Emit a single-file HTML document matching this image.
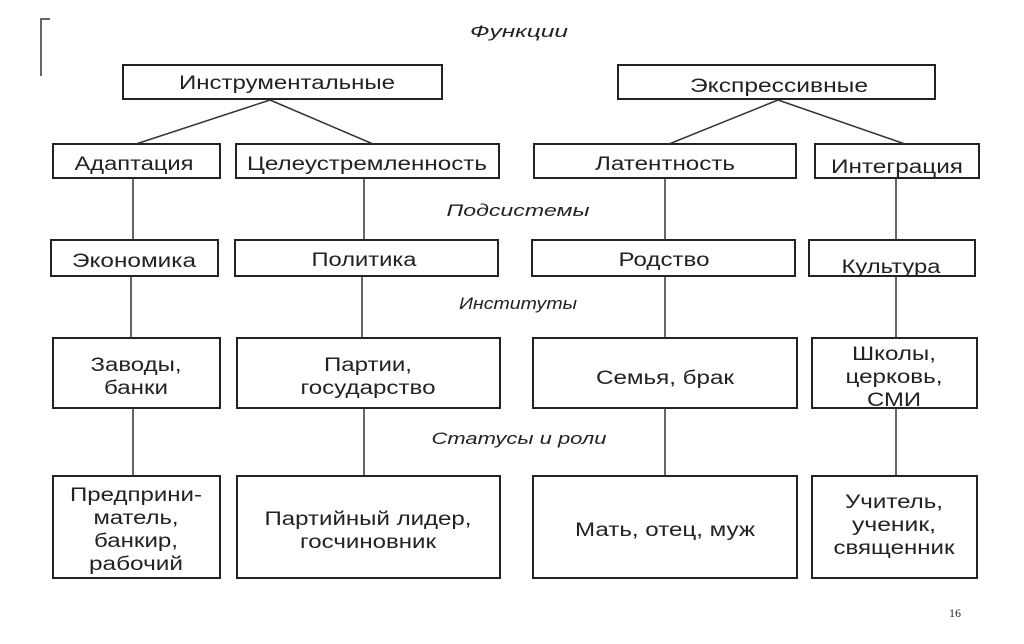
<!DOCTYPE html>
<html><head><meta charset="utf-8"><style>
body{margin:0;background:#fff;}
svg text{font-family:"Liberation Sans","DejaVu Sans",sans-serif;fill:#222;}
</style></head><body>
<svg width="1024" height="639" xmlns="http://www.w3.org/2000/svg">
<g fill="none" stroke="#666" stroke-width="2"><path d="M50 19 H41 V76"/></g>
<g fill="none" stroke="#222" stroke-width="2">
<rect x="123" y="65" width="319" height="34"/>
<rect x="618" y="65" width="317" height="34"/>
<rect x="53" y="144" width="167" height="34"/>
<rect x="236" y="144" width="263" height="34"/>
<rect x="534" y="144" width="262" height="34"/>
<rect x="815" y="144" width="164" height="34"/>
<rect x="51" y="240" width="167" height="36"/>
<rect x="235" y="240" width="263" height="36"/>
<rect x="532" y="240" width="263" height="36"/>
<rect x="809" y="240" width="166" height="36"/>
<rect x="53" y="338" width="167" height="70"/>
<rect x="237" y="338" width="263" height="70"/>
<rect x="533" y="338" width="264" height="70"/>
<rect x="812" y="338" width="165" height="70"/>
<rect x="53" y="476" width="167" height="102"/>
<rect x="237" y="476" width="263" height="102"/>
<rect x="533" y="476" width="264" height="102"/>
<rect x="812" y="476" width="165" height="102"/>
</g>
<g stroke="#333" stroke-width="1.5" fill="none">
<path d="M270 100 L136 144 M270 100 L373 144 M778 100 L669 144 M778 100 L905 144"/>
<path d="M133 178 V240 M364 178 V240 M665 178 V240 M896 178 V240"/>
<path d="M131 276 V338 M362 276 V338 M665 276 V338 M896 276 V338"/>
<path d="M133 408 V476 M364 408 V476 M665 408 V476 M896 408 V476"/>
</g>
<g font-size="19" text-anchor="middle" lengthAdjust="spacingAndGlyphs">
<text x="287" y="89" textLength="216" lengthAdjust="spacingAndGlyphs">Инструментальные</text>
<text x="779" y="92" textLength="178" lengthAdjust="spacingAndGlyphs">Экспрессивные</text>
<text x="134" y="170" textLength="119" lengthAdjust="spacingAndGlyphs">Адаптация</text>
<text x="367" y="170" textLength="240" lengthAdjust="spacingAndGlyphs">Целеустремленность</text>
<text x="665" y="170" textLength="140" lengthAdjust="spacingAndGlyphs">Латентность</text>
<text x="897" y="173" textLength="132" lengthAdjust="spacingAndGlyphs">Интеграция</text>
<text x="134" y="267" textLength="124" lengthAdjust="spacingAndGlyphs">Экономика</text>
<text x="364" y="266" textLength="105" lengthAdjust="spacingAndGlyphs">Политика</text>
<text x="664" y="266" textLength="91" lengthAdjust="spacingAndGlyphs">Родство</text>
<text x="891" y="273" textLength="99" lengthAdjust="spacingAndGlyphs">Культура</text>
<text x="136" y="371" textLength="91" lengthAdjust="spacingAndGlyphs">Заводы,</text>
<text x="136" y="394" textLength="64" lengthAdjust="spacingAndGlyphs">банки</text>
<text x="368" y="371" textLength="88" lengthAdjust="spacingAndGlyphs">Партии,</text>
<text x="368" y="394" textLength="135" lengthAdjust="spacingAndGlyphs">государство</text>
<text x="665" y="384" textLength="138" lengthAdjust="spacingAndGlyphs">Семья, брак</text>
<text x="894" y="360" textLength="84" lengthAdjust="spacingAndGlyphs">Школы,</text>
<text x="894" y="383" textLength="97" lengthAdjust="spacingAndGlyphs">церковь,</text>
<text x="894" y="406" textLength="54" lengthAdjust="spacingAndGlyphs">СМИ</text>
<text x="136" y="501" textLength="132" lengthAdjust="spacingAndGlyphs">Предприни-</text>
<text x="136" y="524" textLength="85" lengthAdjust="spacingAndGlyphs">матель,</text>
<text x="136" y="547" textLength="84" lengthAdjust="spacingAndGlyphs">банкир,</text>
<text x="136" y="570" textLength="94" lengthAdjust="spacingAndGlyphs">рабочий</text>
<text x="368" y="525" textLength="207" lengthAdjust="spacingAndGlyphs">Партийный лидер,</text>
<text x="368" y="548" textLength="136" lengthAdjust="spacingAndGlyphs">госчиновник</text>
<text x="665" y="536" textLength="180" lengthAdjust="spacingAndGlyphs">Мать, отец, муж</text>
<text x="894" y="508" textLength="98" lengthAdjust="spacingAndGlyphs">Учитель,</text>
<text x="894" y="531" textLength="84" lengthAdjust="spacingAndGlyphs">ученик,</text>
<text x="894" y="554" textLength="121" lengthAdjust="spacingAndGlyphs">священник</text>
</g>
<g font-size="17" font-style="italic" text-anchor="middle">
<text x="519" y="37" textLength="98" lengthAdjust="spacingAndGlyphs">Функции</text>
<text x="518" y="216" textLength="143" lengthAdjust="spacingAndGlyphs">Подсистемы</text>
<text x="518" y="309" textLength="118" lengthAdjust="spacingAndGlyphs">Институты</text>
<text x="519" y="444" textLength="175" lengthAdjust="spacingAndGlyphs">Статусы и роли</text>
</g>
<text x="955" y="617" font-size="12" text-anchor="middle" fill="#666" style="font-family:'Liberation Serif',serif">16</text>
</svg>
</body></html>
